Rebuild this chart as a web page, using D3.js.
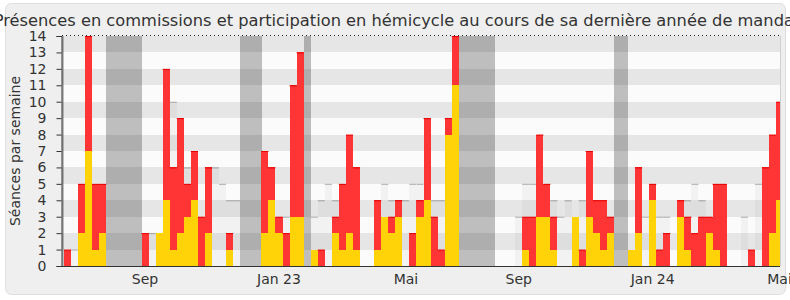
<!DOCTYPE html>
<meta charset="utf-8">
<script src="https://d3js.org/d3.v7.min.js"></script>
<style>
  body { margin: 0; background: #fff; }
  svg text { font-family: "DejaVu Sans", sans-serif; fill: #333; }
  svg rect { shape-rendering: crispEdges; }
</style>
<div id="my_dataviz"></div>
<script>

  // weekly values, one entry per week (index 0 = first week shown)
  var totals =    [1,0,5,14,5,5,0,0,0,0,0,2,0,2,12,6,9,5,7,3,6,0,0,2,0,0,0,0,7,6,3,2,11,13,0,1,1,0,3,5,8,6,0,0,4,3,3,4,0,2,4,9,3,1,9,14,
                   0,0,0,0,0,0,0,0,0,3,3,8,5,3,0,0,3,1,7,4,4,3,0,0,1,6,0,5,1,2,0,4,3,2,3,3,5,5,0,0,0,1,0,6,8,10];
  var hemicycle = [0,0,2,7,1,2,0,0,0,0,0,0,0,2,4,1,2,3,4,0,2,0,0,1,0,0,0,0,2,4,2,0,3,3,0,1,0,0,2,1,2,1,0,0,1,3,2,3,0,0,3,4,0,0,8,11,
                   0,0,0,0,0,0,0,0,0,1,0,3,3,1,0,0,3,0,3,2,1,2,0,0,1,2,0,4,0,0,0,3,1,0,0,2,1,0,0,0,0,0,0,0,2,4];
  // median of the other deputies, only where it shows above the bars
  var median =    [0,1,0,0,0,0,0,0,0,0,0,0,2,0,0,10,0,6,0,0,0,6,5,4,4,0,0,0,0,0,0,3,0,0,0,3,4,5,4,0,0,0,0,0,0,5,4,0,4,5,5,0,4,4,0,0,
                   0,0,0,0,0,0,0,0,3,5,5,0,0,4,3,4,0,4,0,0,0,0,0,0,0,0,3,0,3,3,0,0,4,5,4,0,0,0,0,0,3,0,5,0,0,0];
  var vacances = [-1,6,7,8,9,10,25,26,27,34,56,57,58,59,60,78,79];
  var tickWeeks = [11, 30, 48, 64, 83, 101];
  var tickLabels = ["Sep", "Jan 23", "Mai", "Sep", "Jan 24", "Mai"];

  var width = 790, height = 300;
  var margin = { top: 36, right: 10, bottom: 34, left: 62 };

  var svg = d3.select("#my_dataviz")
    .append("svg")
    .attr("width", width)
    .attr("height", height);

  // panel
  svg.append("rect")
    .attr("x", 5.5).attr("y", 3.5)
    .attr("width", 780).attr("height", 291)
    .attr("rx", 6)
    .attr("fill", "#efefef")
    .attr("stroke", "#dedede")
    .style("shape-rendering", "auto");

  var x = d3.scaleLinear().domain([-0.28, 101.56]).range([margin.left, width - margin.right]);
  var y = d3.scaleLinear().domain([0, 14]).range([height - margin.bottom, margin.top]);

  svg.append("clipPath").attr("id", "plot")
    .append("rect")
    .attr("x", x.range()[0]).attr("y", y(14))
    .attr("width", x.range()[1] - x.range()[0])
    .attr("height", y(0) - y(14));

  var g = svg.append("g").attr("clip-path", "url(#plot)");

  g.append("rect")
    .attr("x", x.range()[0]).attr("y", y(14))
    .attr("width", x.range()[1] - x.range()[0])
    .attr("height", y(0) - y(14))
    .attr("fill", "#fbfbfb");

  // holidays
  g.selectAll(".vac")
    .data(vacances)
    .enter().append("rect")
    .attr("x", d => x(d))
    .attr("width", d => x(d + 1) - x(d) + 0.5)
    .attr("y", y(14))
    .attr("height", y(0) - y(14))
    .attr("fill", "#bebebe");

  var weeks = d3.range(totals.length);

  // median bars
  var med = g.append("g").selectAll("g")
    .data(weeks.filter(i => median[i] > 0))
    .enter().append("g");
  med.append("rect")
    .attr("x", i => x(i))
    .attr("width", i => x(i + 1) - x(i))
    .attr("y", i => y(median[i]))
    .attr("height", i => y(0) - y(median[i]))
    .attr("fill", "#f2f2f2");
  med.append("line")
    .attr("x1", i => x(i)).attr("x2", i => x(i + 1))
    .attr("y1", i => y(median[i]) + 0.5).attr("y2", i => y(median[i]) + 0.5)
    .attr("stroke", "#b0b0b0");

  // horizontal stripes
  g.selectAll(".stripe")
    .data([1, 3, 5, 7, 9, 11, 13])
    .enter().append("rect")
    .attr("x", x.range()[0])
    .attr("width", x.range()[1] - x.range()[0])
    .attr("y", d => y(d + 1))
    .attr("height", d => y(d) - y(d + 1))
    .attr("fill", "rgba(0,0,0,0.083)");

  // commissions (red) on top of hémicycle (yellow)
  var bars = g.append("g").selectAll("g")
    .data(weeks.filter(i => totals[i] > 0))
    .enter().append("g");
  bars.filter(i => totals[i] > hemicycle[i]).append("rect")
    .attr("x", i => x(i))
    .attr("width", i => x(i + 1) - x(i))
    .attr("y", i => y(totals[i]))
    .attr("height", i => y(hemicycle[i]) - y(totals[i]))
    .attr("fill", "#ff3535");
  bars.filter(i => totals[i] > hemicycle[i]).append("line")
    .attr("x1", i => x(i)).attr("x2", i => x(i + 1))
    .attr("y1", i => y(totals[i]) + 0.5).attr("y2", i => y(totals[i]) + 0.5)
    .attr("stroke", "#e60000");
  bars.filter(i => hemicycle[i] > 0).append("rect")
    .attr("x", i => x(i))
    .attr("width", i => x(i + 1) - x(i))
    .attr("y", i => y(hemicycle[i]))
    .attr("height", i => y(0) - y(hemicycle[i]))
    .attr("fill", "#ffd308");

  // top dotted line and right border
  svg.append("line")
    .attr("x1", x.range()[0]).attr("x2", x.range()[1])
    .attr("y1", y(14) - 0.5).attr("y2", y(14) - 0.5)
    .attr("stroke", "#222")
    .attr("stroke-dasharray", "1,3");
  svg.append("line")
    .attr("x1", x.range()[1] + 0.5).attr("x2", x.range()[1] + 0.5)
    .attr("y1", y(14)).attr("y2", y(0))
    .attr("stroke", "#d0d0d0");

  // y axis
  var yAxis = svg.append("g")
    .attr("transform", "translate(" + (x.range()[0] - 0.5) + ",0)")
    .call(d3.axisLeft(y).ticks(14).tickSize(5).tickPadding(10));
  yAxis.select(".domain").attr("stroke", "#333");
  yAxis.selectAll(".tick line").attr("stroke", "#333");
  yAxis.selectAll("text").style("font-size", "14px").attr("fill", "#333");

  // x axis
  svg.append("line")
    .attr("x1", x.range()[0]).attr("x2", x.range()[1])
    .attr("y1", y(0) + 0.5).attr("y2", y(0) + 0.5)
    .attr("stroke", "#333");
  svg.selectAll(".xlab")
    .data(tickWeeks)
    .enter().append("text")
    .attr("class", "xlab")
    .attr("x", d => x(d + 0.5))
    .attr("y", y(0) + 18)
    .attr("text-anchor", "middle")
    .style("font-size", "14px")
    .text((d, i) => tickLabels[i]);

  svg.append("text")
    .attr("transform", "translate(20," + ((y(0) + y(14)) / 2) + ") rotate(-90)")
    .attr("text-anchor", "middle")
    .style("font-size", "14px")
    .text("Séances par semaine");

  svg.append("text")
    .attr("x", 397)
    .attr("y", 26)
    .attr("text-anchor", "middle")
    .style("font-size", "16.25px")
    .text("Présences en commissions et participation en hémicycle au cours de sa dernière année de mandat");

</script>
